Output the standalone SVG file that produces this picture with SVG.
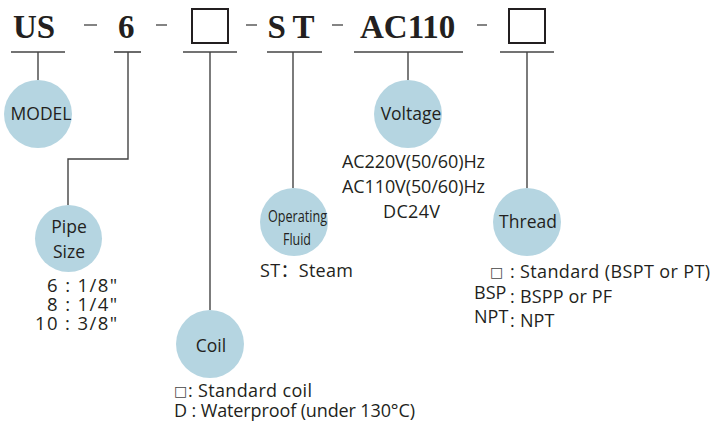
<svg xmlns="http://www.w3.org/2000/svg" width="713" height="424" viewBox="0 0 713 424">
<style>
.code{font-family:"Liberation Serif",serif;font-weight:bold;font-size:33px;fill:#231f20}
.dash{stroke:#333;stroke-width:1.2}
.ul{stroke:#444;stroke-width:1.6;fill:none}
.ln{stroke:#444;stroke-width:1.4;fill:none}
.box{fill:none;stroke:#231f20;stroke-width:2}
.node{fill:#b5d5e1}
.lbl{font-family:"Open Sans","Noto Sans",sans-serif;font-size:17.5px;fill:#231f20;text-anchor:middle}
.txt{font-family:"Open Sans","Noto Sans","DejaVu Sans","Noto Sans CJK SC",sans-serif;font-size:18px;fill:#231f20}
.sq{font-family:"DejaVu Sans",sans-serif;font-size:14px;fill:#444}
.pipe{font-size:18.5px;text-anchor:end}
</style>
<rect width="713" height="424" fill="#fff"/>
<g id="code">
<text class="code" x="13" y="38">US</text>
<text class="code" x="118" y="38">6</text>
<text class="code" x="291" y="38" text-anchor="middle" textLength="47">ST</text>
<text class="code" x="360" y="38">AC110</text>
<rect class="box" x="192" y="9" width="36" height="34"/>
<rect class="box" x="509" y="9" width="36" height="34"/>
<line class="dash" x1="84" y1="25" x2="97" y2="25"/>
<line class="dash" x1="156" y1="25" x2="167" y2="25"/>
<line class="dash" x1="246" y1="25" x2="257" y2="25"/>
<line class="dash" x1="332" y1="25" x2="343" y2="25"/>
<line class="dash" x1="477" y1="25" x2="487" y2="25"/>
<line class="ul" x1="11" y1="52" x2="65" y2="52"/>
<line class="ul" x1="114" y1="52" x2="141" y2="52"/>
<line class="ul" x1="183" y1="52" x2="237" y2="52"/>
<line class="ul" x1="267" y1="52" x2="322" y2="52"/>
<line class="ul" x1="354" y1="52" x2="463" y2="52"/>
<line class="ul" x1="500" y1="52" x2="554" y2="52"/>
</g>
<g id="connectors">
<path class="ln" d="M38,52 V80"/>
<path class="ln" d="M128,52 V159 H68 V205"/>
<path class="ln" d="M210,52 V310"/>
<path class="ln" d="M293,52 V188"/>
<path class="ln" d="M408,52 V80"/>
<path class="ln" d="M527,52 V188"/>
</g>
<g id="model">
<circle class="node" cx="38" cy="114" r="34"/>
<text class="lbl" x="41" y="120">MODEL</text>
</g>
<g id="pipe-size">
<circle class="node" cx="68.5" cy="238.5" r="33.5"/>
<text class="lbl" x="69" y="233">Pipe</text>
<text class="lbl" x="69" y="258">Size</text>
<text class="txt pipe" x="117" y="292" textLength="70">6 : 1/8"</text>
<text class="txt pipe" x="117" y="311" textLength="70">8 : 1/4"</text>
<text class="txt pipe" x="117" y="330" textLength="82">10 : 3/8"</text>
</g>
<g id="coil">
<circle class="node" cx="210" cy="344" r="34"/>
<text class="lbl" x="211" y="352">Coil</text>
<text class="sq" x="174" y="396">□</text>
<text class="txt" x="188" y="397" textLength="124">: Standard coil</text>
<text class="txt" x="174" y="417" textLength="241">D : Waterproof (under 130°C)</text>
</g>
<g id="operating-fluid">
<circle class="node" cx="294" cy="222" r="34"/>
<text class="lbl" x="297.5" y="222" style="font-size:16.5px" textLength="59" lengthAdjust="spacingAndGlyphs">Operating</text>
<text class="lbl" x="297" y="245" style="font-size:16.5px" textLength="28" lengthAdjust="spacingAndGlyphs">Fluid</text>
<text class="txt" x="260" y="277" textLength="93">ST：Steam</text>
</g>
<g id="voltage">
<circle class="node" cx="408" cy="114" r="34"/>
<text class="lbl" x="411" y="120">Voltage</text>
<text class="lbl" x="413.5" y="168" style="font-size:18px" textLength="143">AC220V(50/60)Hz</text>
<text class="lbl" x="413.5" y="193" style="font-size:18px" textLength="143">AC110V(50/60)Hz</text>
<text class="lbl" x="411.5" y="218" style="font-size:18px" textLength="57">DC24V</text>
</g>
<g id="thread">
<circle class="node" cx="527" cy="222" r="34"/>
<text class="lbl" x="528" y="228">Thread</text>
<text class="sq" x="490" y="277">□</text>
<text class="txt" x="510" y="278">:</text>
<text class="txt" x="520" y="278" textLength="190">Standard (BSPT or PT)</text>
<text class="txt" x="474" y="299">BSP</text>
<text class="txt" x="510" y="303">:</text>
<text class="txt" x="520" y="303" textLength="92">BSPP or PF</text>
<text class="txt" x="474" y="323">NPT</text>
<text class="txt" x="510" y="327">:</text>
<text class="txt" x="520" y="327">NPT</text>
</g>
</svg>
